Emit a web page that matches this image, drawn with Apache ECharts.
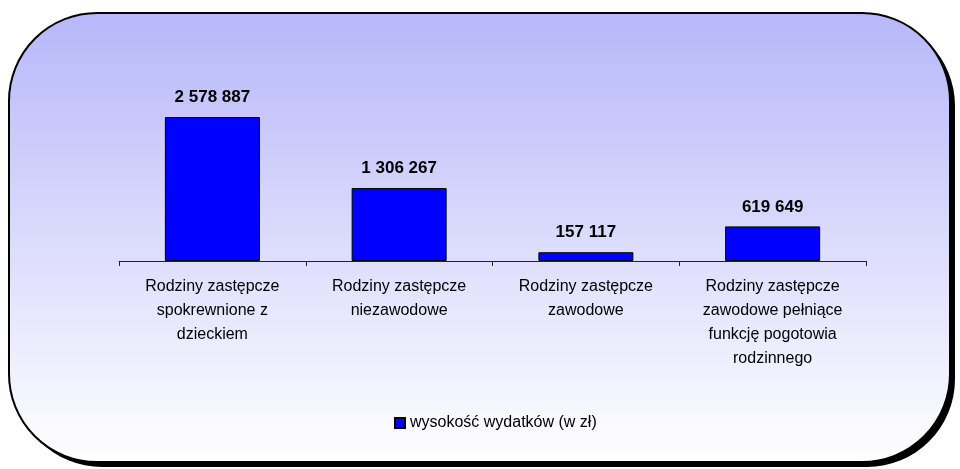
<!DOCTYPE html>
<html>
<head>
<meta charset="utf-8">
<script src="https://cdn.jsdelivr.net/npm/echarts@6/dist/echarts.min.js"></script>
<style>html,body{margin:0;padding:0;background:#fff}#c{width:960px;height:469px}</style>
</head>
<body>
<div id="c"></div>
<script>
const categories = [
  "Rodziny zastępcze\nspokrewnione z\ndzieckiem",
  "Rodziny zastępcze\nniezawodowe",
  "Rodziny zastępcze\nzawodowe",
  "Rodziny zastępcze\nzawodowe pełniące\nfunkcję pogotowia\nrodzinnego"
];
const seriesName = "wysokość wydatków (w zł)";
const values = [2578887, 1306267, 157117, 619649];

function fmt(v) {
  return String(v).replace(/\B(?=(\d{3})+(?!\d))/g, " ");
}

const chart = echarts.init(document.getElementById('c'));
chart.setOption({
  animation: false,
  textStyle: { fontFamily: "Liberation Sans, Arial, sans-serif" },
  graphic: [
    {
      type: 'rect', z: -10,
      shape: { x: 14, y: 18, width: 941, height: 449, r: 88 },
      style: { fill: '#000' }
    },
    {
      type: 'rect', z: -9,
      shape: { x: 9, y: 13, width: 941, height: 449, r: 88 },
      style: {
        fill: new echarts.graphic.LinearGradient(0, 0, 0, 1, [
          { offset: 0, color: '#B7B7FA' },
          { offset: 1, color: '#FFFFFF' }
        ]),
        stroke: '#000', lineWidth: 2
      }
    }
  ],
  grid: { left: 119, right: 94, top: 93.5, bottom: 208 },
  legend: {
    data: [seriesName],
    left: 389, top: 410,
    itemWidth: 10, itemHeight: 10, itemGap: 6,
    icon: 'rect',
    textStyle: { fontSize: 16, color: '#000', fontFamily: "Liberation Sans, Arial, sans-serif" }
  },
  xAxis: {
    type: 'category',
    data: categories,
    axisLine: { lineStyle: { color: '#222', width: 1 } },
    axisTick: { show: true, inside: false, length: 5, lineStyle: { color: '#222' } },
    axisLabel: {
      interval: 0, margin: 14, fontSize: 16, lineHeight: 24, color: '#000',
      fontFamily: "Liberation Sans, Arial, sans-serif"
    }
  },
  yAxis: {
    type: 'value', min: 0, max: 3000000, interval: 500000,
    show: false, splitLine: { show: false }
  },
  series: [{
    name: seriesName,
    type: 'bar',
    data: values,
    barWidth: 95,
    itemStyle: { color: '#0000FF', borderColor: '#000', borderWidth: 1 },
    label: {
      show: true, position: 'top', distance: 11,
      fontSize: 17, fontWeight: 'bold', color: '#000',
      fontFamily: "Liberation Sans, Arial, sans-serif",
      formatter: p => fmt(p.value)
    }
  }]
});
</script>
</body>
</html>
